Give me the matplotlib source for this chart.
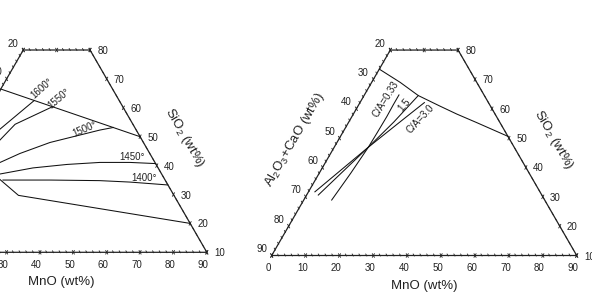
import numpy as np
import matplotlib
matplotlib.use('Agg')
import matplotlib.pyplot as plt

plt.rcParams['font.family'] = ['Liberation Sans', 'DejaVu Sans']
plt.rcParams['mathtext.default'] = 'regular'

W, H, DPI = 592, 294, 100

# ---------------- data: (MnO wt%, SiO2 wt%) ----------------
# Left panel: isotherms and phase boundary
L_bound_mno = [0, 50]
L_bound_sio2 = [66.5, 50]
iso1600_mno = [4.4, 6.7, 12.0]
iso1600_sio2 = [48.3, 52.6, 62.5]
iso1550_mno = [7.2, 8.6, 10.4, 18.6]
iso1550_sio2 = [44.5, 48.9, 54.3, 60.4]
iso1500_mno = [8.0, 12.5, 16.9, 24.0, 36.8, 40.4]
iso1500_sio2 = [38.0, 41.1, 44.2, 48.0, 52.3, 53.2]
iso1450_mno = [6.5, 14.5, 23.3, 32.9, 42.4, 51.4, 59.3]
iso1450_sio2 = [35.0, 37.1, 39.2, 40.4, 41.1, 41.1, 40.7]
iso1400_mno = [16.4, 30.5, 45.5, 54.8, 66.7]
iso1400_sio2 = [35.0, 35.0, 34.8, 34.3, 33.3]
lower_mno = [12.0, 15.4, 23.7, 80.0]
lower_sio2 = [37.5, 35.2, 29.7, 20.0]
iso_labels = ['1600°', '1550°', '1500°', '1450°', '1400°']
iso_lab_mno = [12.3, 19.1, 32.0, 51.0, 58.5]
iso_lab_sio2 = [66.8, 63.4, 52.7, 43.1, 35.6]
iso_lab_rot = [42, 41, 24, 0, 0]

# Right panel: boundary and C/A lines
R_bound_mno = [0, 8.4, 16.0, 24.2, 30.5, 37.8, 49.4]
R_bound_sio2 = [73.5, 69.0, 64.5, 60.9, 58.2, 55.3, 50.6]
ca033_mno = [8.25, 9.3, 10.07, 10.2, 10.3, 10.2, 10.2]
ca033_sio2 = [28.9, 38.0, 46.9, 51.6, 57.3, 61.3, 64.7]
ca15_mno = [3.45, 10.07, 13.3, 16.0]
ca15_sio2 = [30.6, 46.9, 55.5, 64.5]
ca30_mno = [1.9, 10.07, 14.8, 19.0]
ca30_sio2 = [31.7, 46.9, 55.0, 62.1]
ca_labels = ['C/A=0.33', '1.5', 'C/A=3.0']
ca_lab_mno = [7.1, 13.6, 20.5]
ca_lab_sio2 = [63.3, 61.3, 56.5]
ca_lab_rot = [58, 50, 47]

bottom_ticks = [0, 10, 20, 30, 40, 50, 60, 70, 80, 90]
side_ticks = [10, 20, 30, 40, 50, 60, 70, 80]

S3 = np.sqrt(3) / 2
INK = '#222222'


def tern(m, s):
    m = np.asarray(m, float)
    s = np.asarray(s, float)
    return m + (s - 10) / 2, (s - 10) * S3


fig = plt.figure(figsize=(W / DPI, H / DPI), dpi=DPI)
PT = 72.0 / DPI  # points per pixel


def panel(BLx, BLy, k, title_dx=0.0):
    xl, yl = (-45, 105), (-20, 75)
    left = BLx + xl[0] * k
    right = BLx + xl[1] * k
    bot = BLy - yl[0] * k
    top = BLy - yl[1] * k
    ax = fig.add_axes([left / W, (H - bot) / H, (right - left) / W, (bot - top) / H])
    ax.set_xlim(xl)
    ax.set_ylim(yl)
    ax.axis('off')

    def label(text, x, y, dx, dy, **kw):
        # skip texts lying wholly outside the (cropped) canvas
        px = BLx + float(x) * k + dx
        if px < -8 or px > W + 8:
            return
        ax.annotate(text, (x, y), xytext=(dx * PT, dy * PT), textcoords='offset points',
                    ha='center', va='center', color=INK, **kw)

    # frame
    fm = [0, 90, 20, 0, 0]
    fs = [10, 10, 80, 80, 10]
    fx, fy = tern(fm, fs)
    ax.plot(fx, fy, color=INK, lw=0.9, solid_joinstyle='miter')
    # ticks
    d60 = np.array([0.5, S3])
    d120 = np.array([-0.5, S3])

    def tick(x, y, major):
        if major:
            for d in (d60, d120):
                ax.plot([x - 0.6 * d[0], x + 0.6 * d[0]], [y - 0.6 * d[1], y + 0.6 * d[1]],
                        color=INK, lw=0.6)
        else:
            ax.plot([x - 0.15 * d120[0], x + 0.5 * d120[0]], [y - 0.15 * d120[1], y + 0.5 * d120[1]],
                    color=INK, lw=0.6)
    for v in range(0, 91, 2):
        x, y = tern(v, 10)
        tick(float(x), float(y), v % 10 == 0)
    for v in range(10, 81, 2):
        x, y = tern(0, v)
        tick(float(x), float(y), v % 10 == 0)
        x, y = tern(100 - v, v)
        tick(float(x), float(y), v % 10 == 0)
    for v in range(0, 21, 2):
        x, y = tern(v, 80)
        tick(float(x), float(y), v % 10 == 0)
    # tick labels
    fs_t = 7
    for v in bottom_ticks:
        x, y = tern(v, 10)
        label(str(v), x, y, -3.4, -12.5, fontsize=fs_t)
    for v in side_ticks:
        x, y = tern(0, v)
        label(str(100 - v), x, y, -10, 6.5, fontsize=fs_t)
        x, y = tern(100 - v, v)
        label(str(v), x, y, 12.5, -1, fontsize=fs_t)
    # axis titles
    x, y = tern(45, 10)
    label('MnO (wt%)', x, y, title_dx, -30, fontsize=9.5)
    x, y = tern(55, 45)
    label('SiO$_2$ (wt%)', x, y, 36, 13.5, fontsize=9.5, rotation=-60, rotation_mode='anchor')
    x, y = tern(0, 45)
    label('Al$_2$O$_3$+CaO (wt%)', x, y, -36, 13.5, fontsize=9.5, rotation=60,
          rotation_mode='anchor')
    return ax


def curve(ax, m, s):
    x, y = tern(m, s)
    ax.plot(x, y, color='#111111', lw=0.75)


# Left panel
axL = panel(-93.5, 252.3, 3.337, title_dx=5)
for m, s in [(L_bound_mno, L_bound_sio2), (iso1600_mno, iso1600_sio2), (iso1550_mno, iso1550_sio2),
             (iso1500_mno, iso1500_sio2), (iso1450_mno, iso1450_sio2), (iso1400_mno, iso1400_sio2),
             (lower_mno, lower_sio2)]:
    curve(axL, m, s)
for t, m, s, r in zip(iso_labels, iso_lab_mno, iso_lab_sio2, iso_lab_rot):
    x, y = tern(m, s)
    axL.text(x, y, t, fontsize=7, rotation=r, rotation_mode='anchor', ha='center', va='center',
             color=INK)

# Right panel
axR = panel(271.7, 255.5, 3.389)
for m, s in [(R_bound_mno, R_bound_sio2), (ca033_mno, ca033_sio2), (ca15_mno, ca15_sio2),
             (ca30_mno, ca30_sio2)]:
    curve(axR, m, s)
for t, m, s, r in zip(ca_labels, ca_lab_mno, ca_lab_sio2, ca_lab_rot):
    x, y = tern(m, s)
    axR.text(x, y, t, fontsize=7, rotation=r, rotation_mode='anchor', ha='center', va='center',
             color=INK)

fig.savefig('out.png', dpi=DPI)
